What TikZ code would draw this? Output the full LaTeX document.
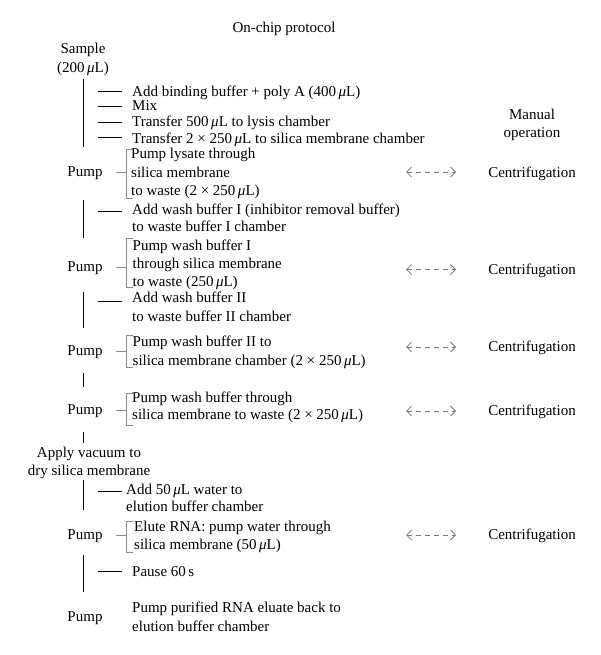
\documentclass[tikz,border=0pt]{standalone}
\usepackage{fontspec}
\setmainfont{Liberation Serif}
\usetikzlibrary{arrows.meta}
\newcommand{\myuL}{\,\textit{μ}L}
\definecolor{brgray}{HTML}{8C8C8C}
\definecolor{argray}{HTML}{7A7A7A}
\begin{document}
\begin{tikzpicture}[x=1pt,y=-1pt,
  txt/.style={font=\fontsize{15}{18}\selectfont, inner sep=0pt, anchor=base west},
  ctxt/.style={font=\fontsize{15}{18}\selectfont, inner sep=0pt, anchor=base},
  vline/.style={black, line width=0.9pt},
  tick/.style={black, line width=0.9pt},
  brk/.style={brgray, line width=0.9pt},
  darr/.style={argray, line width=0.8pt, dash pattern=on 5pt off 4pt,
    {Straight Barb[length=5pt,width=10pt]}-{Straight Barb[length=5pt,width=10pt]}}
]
\useasboundingbox (0,0) rectangle (600,655);

% titles
\node[ctxt] (title) at (284,33) {On-chip protocol};
\node[ctxt] (sample) at (83,54) {Sample};
\node[ctxt] (sampleb) at (83,73) {(200\myuL)};
\node[ctxt] (manual) at (532,120) {Manual};
\node[ctxt] (manualb) at (532,138) {operation};

% block 1
\coordinate (v1a) at (83,79); \coordinate (v1b) at (83,147);
\draw[vline] (v1a) -- (v1b);
\node[txt] (s1) at (132,97) {Add binding buffer + poly A (400\myuL)};
\node[txt] (s2) at (132,110.5) {Mix};
\node[txt] (s3) at (132,127) {Transfer 500\myuL\ to lysis chamber};
\node[txt] (s4) at (132,143.5) {Transfer 2 × 250\myuL\ to silica membrane chamber};
\foreach \n/\yy in {s1/91, s2/106, s3/122.5, s4/137.5}{
  \coordinate (\n l) at (98,\yy); \coordinate (\n r) at (122,\yy);
  \draw[tick] (\n l) -- (\n r);
}

% pump 1
\node[ctxt] (pump1) at (85,176) {Pump};
\node[txt] (p1a) at (131,159) {Pump lysate through};
\node[txt] (p1b) at (131,177) {silica membrane};
\node[txt] (p1c) at (131,195) {to waste (2 × 250\myuL)};
\coordinate (b1t) at (126,149); \coordinate (b1b) at (126,198);
\coordinate (b1m) at (126,172); \coordinate (b1d) at (116,172);
\draw[brk] ([xshift=7]b1t) -- (b1t) -- (b1b) -- ([xshift=7]b1b);
\draw[brk] (b1d) -- (b1m);
\node[ctxt] (c1) at (532,177) {Centrifugation};
\coordinate (a1l) at (406,172); \coordinate (a1r) at (456,172);
\draw[darr] (a1l) -- (a1r);

% block 2
\coordinate (v2a) at (83,200); \coordinate (v2b) at (83,238);
\draw[vline] (v2a) -- (v2b);
\node[txt] (s5) at (132,214.5) {Add wash buffer I (inhibitor removal buffer)};
\node[txt] (s5b) at (132,231.5) {to waste buffer I chamber};
\coordinate (s5l) at (98,211.5); \coordinate (s5r) at (122,211.5);
\draw[tick] (s5l) -- (s5r);

% pump 2
\node[ctxt] (pump2) at (85,271) {Pump};
\node[txt] (p2a) at (132.5,250.5) {Pump wash buffer I};
\node[txt] (p2b) at (132.5,268.5) {through silica membrane};
\node[txt] (p2c) at (132.5,286) {to waste (250\myuL)};
\coordinate (b2t) at (126,238); \coordinate (b2b) at (126,287);
\coordinate (b2m) at (126,267); \coordinate (b2d) at (116,267);
\draw[brk] ([xshift=7]b2t) -- (b2t) -- (b2b) -- ([xshift=7]b2b);
\draw[brk] (b2d) -- (b2m);
\node[ctxt] (c2) at (532,274) {Centrifugation};
\coordinate (a2l) at (406,269.5); \coordinate (a2r) at (456,269.5);
\draw[darr] (a2l) -- (a2r);

% block 3
\coordinate (v3a) at (83,292); \coordinate (v3b) at (83,328);
\draw[vline] (v3a) -- (v3b);
\node[txt] (s6) at (132,302.5) {Add wash buffer II};
\node[txt] (s6b) at (132,321) {to waste buffer II chamber};
\coordinate (s6l) at (98,301.5); \coordinate (s6r) at (122,301.5);
\draw[tick] (s6l) -- (s6r);

% pump 3
\node[ctxt] (pump3) at (85,355) {Pump};
\node[txt] (p3a) at (132.5,346) {Pump wash buffer II to};
\node[txt] (p3b) at (132.5,365) {silica membrane chamber (2 × 250\myuL)};
\coordinate (b3t) at (126,335); \coordinate (b3b) at (126,367);
\coordinate (b3m) at (126,351); \coordinate (b3d) at (116,351);
\draw[brk] ([xshift=7]b3t) -- (b3t) -- (b3b) -- ([xshift=7]b3b);
\draw[brk] (b3d) -- (b3m);
\node[ctxt] (c3) at (532,351.5) {Centrifugation};
\coordinate (a3l) at (406,347); \coordinate (a3r) at (456,347);
\draw[darr] (a3l) -- (a3r);

\coordinate (v4a) at (83,373); \coordinate (v4b) at (83,387);
\draw[vline] (v4a) -- (v4b);

% pump 4
\node[ctxt] (pump4) at (85,414.5) {Pump};
\node[txt] (p4a) at (132,402.5) {Pump wash buffer through};
\node[txt] (p4b) at (132,419.5) {silica membrane to waste (2 × 250\myuL)};
\coordinate (b4t) at (126,393); \coordinate (b4b) at (126,425);
\coordinate (b4m) at (126,410); \coordinate (b4d) at (116,410);
\draw[brk] ([xshift=7]b4t) -- (b4t) -- (b4b) -- ([xshift=7]b4b);
\draw[brk] (b4d) -- (b4m);
\node[ctxt] (c4) at (532,415.5) {Centrifugation};
\coordinate (a4l) at (406,411); \coordinate (a4r) at (456,411);
\draw[darr] (a4l) -- (a4r);

\coordinate (v5a) at (83,432); \coordinate (v5b) at (83,443);
\draw[vline] (v5a) -- (v5b);

% vacuum
\node[ctxt] (vac) at (89,457) {Apply vacuum to};
\node[ctxt] (vacb) at (89,475) {dry silica membrane};

\coordinate (v6a) at (83,480); \coordinate (v6b) at (83,510);
\draw[vline] (v6a) -- (v6b);
\node[txt] (s7) at (126,494.5) {Add 50\myuL\ water to};
\node[txt] (s7b) at (126,511.5) {elution buffer chamber};
\coordinate (s7l) at (98,491.5); \coordinate (s7r) at (122,491.5);
\draw[tick] (s7l) -- (s7r);

% pump 5
\node[ctxt] (pump5) at (85,539.5) {Pump};
\node[txt] (p5a) at (134,531) {Elute RNA: pump water through};
\node[txt] (p5b) at (134,549.5) {silica membrane (50\myuL)};
\coordinate (b5t) at (126,521); \coordinate (b5b) at (126,552);
\coordinate (b5m) at (126,535.5); \coordinate (b5d) at (116,535.5);
\draw[brk] ([xshift=7]b5t) -- (b5t) -- (b5b) -- ([xshift=7]b5b);
\draw[brk] (b5d) -- (b5m);
\node[ctxt] (c5) at (532,539.5) {Centrifugation};
\coordinate (a5l) at (406,535) ; \coordinate (a5r) at (456,535);
\draw[darr] (a5l) -- (a5r);

% pause
\coordinate (v7a) at (83,555); \coordinate (v7b) at (83,592);
\draw[vline] (v7a) -- (v7b);
\node[txt] (s8) at (132,576.5) {Pause 60\,s};
\coordinate (s8l) at (98,571.5); \coordinate (s8r) at (122,571.5);
\draw[tick] (s8l) -- (s8r);

% pump 6
\node[ctxt] (pump6) at (85,621.5) {Pump};
\node[txt] (p6a) at (132,612.5) {Pump purified RNA eluate back to};
\node[txt] (p6b) at (132,631) {elution buffer chamber};
\end{tikzpicture}
\end{document}
